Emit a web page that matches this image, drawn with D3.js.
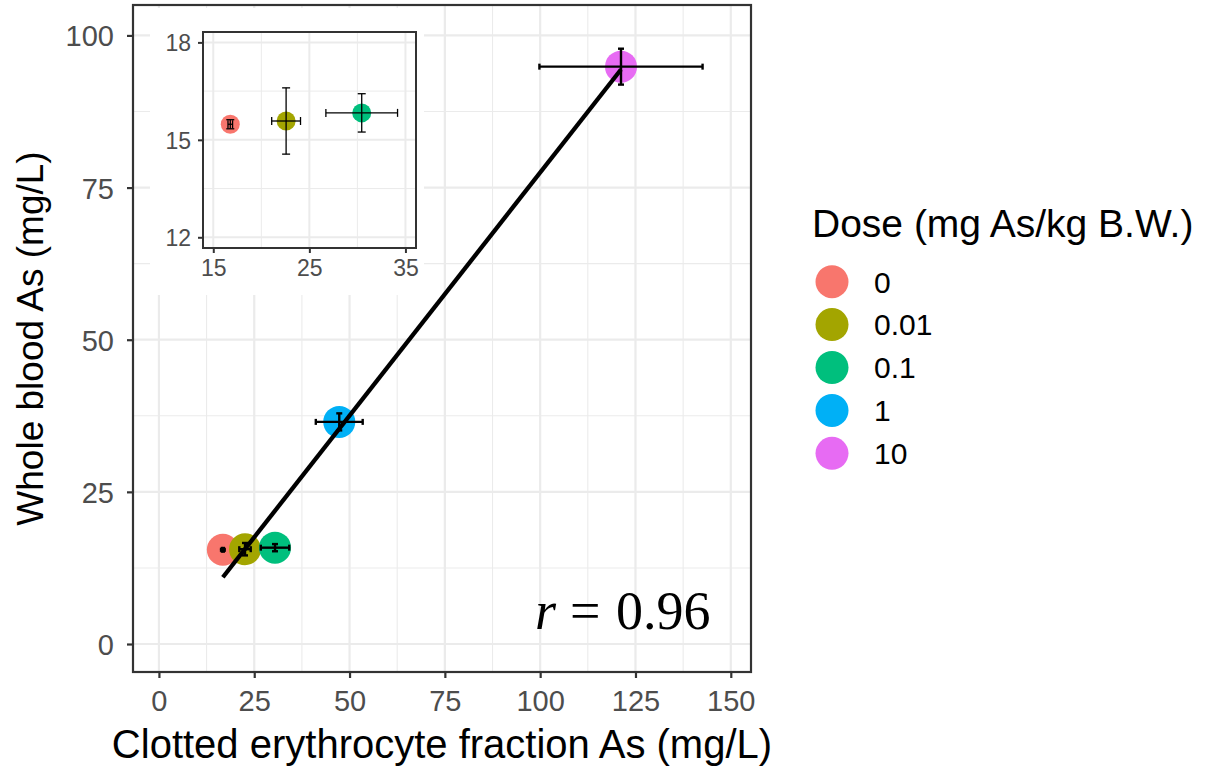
<!DOCTYPE html>
<html>
<head>
<meta charset="utf-8">
<script src="https://cdn.jsdelivr.net/npm/d3@7"></script>
<style>
  body { margin: 0; background: #fff; }
  svg text { font-family: "Liberation Sans", Arial, Helvetica, sans-serif; }
</style>
</head>
<body>
<div id="chart"></div>
<script>
// data
const doses = ["0", "0.01", "0.1", "1", "10"];
const doseColors = ["#F8766D", "#A3A500", "#00BF7D", "#00B0F6", "#E76BF3"];
const clotMean = [16.77, 22.58, 30.45, 47.3, 121.2];
const clotErr = [0.24, 1.5, 3.73, 6.15, 21.4];
const bloodMean = [15.48, 15.58, 15.83, 36.5, 94.87];
const bloodErr = [0.14, 1.02, 0.59, 1.4, 2.95];
const xTicks = [0, 25, 50, 75, 100, 125, 150];
const yTicks = [0, 25, 50, 75, 100];
const insetDoses = [0, 1, 2];
const insetXTicks = [15, 25, 35];
const insetYTicks = [12, 15, 18];
const rLabel = "0.96";

const rows = doses.map((d, i) => ({
  dose: d, color: doseColors[i],
  x: clotMean[i], xe: clotErr[i], y: bloodMean[i], ye: bloodErr[i]
}));

const W = 1205, H = 772;
const svg = d3.select("#chart").append("svg")
  .attr("width", W).attr("height", H);

// main panel
const panel = {left: 133, right: 751, top: 5, bottom: 672};
const x = d3.scaleLinear().domain([-6.8, 155.3]).range([panel.left, panel.right]);
const y = d3.scaleLinear().domain([-4.6, 105]).range([panel.bottom, panel.top]);

const grid = svg.append("g");
const minorX = d3.range(12.5, 150, 25), minorY = d3.range(12.5, 100, 25);
grid.selectAll(".mx").data(minorX).join("line")
  .attr("x1", d => x(d)).attr("x2", d => x(d))
  .attr("y1", panel.top).attr("y2", panel.bottom)
  .attr("stroke", "#ebebeb").attr("stroke-width", 1.1);
grid.selectAll(".my").data(minorY).join("line")
  .attr("y1", d => y(d)).attr("y2", d => y(d))
  .attr("x1", panel.left).attr("x2", panel.right)
  .attr("stroke", "#ebebeb").attr("stroke-width", 1.1);
grid.selectAll(".Mx").data(xTicks).join("line")
  .attr("x1", d => x(d)).attr("x2", d => x(d))
  .attr("y1", panel.top).attr("y2", panel.bottom)
  .attr("stroke", "#ebebeb").attr("stroke-width", 2.2);
grid.selectAll(".My").data(yTicks).join("line")
  .attr("y1", d => y(d)).attr("y2", d => y(d))
  .attr("x1", panel.left).attr("x2", panel.right)
  .attr("stroke", "#ebebeb").attr("stroke-width", 2.2);

// points
svg.append("g").selectAll("circle").data(rows).join("circle")
  .attr("cx", d => x(d.x)).attr("cy", d => y(d.y))
  .attr("r", 16).attr("fill", d => d.color);

// error bars
function errorBars(g, data, sx, sy, cap, sw) {
  data.forEach(d => {
    const e = g.append("g").attr("stroke", "#000").attr("stroke-width", sw);
    e.append("line").attr("x1", sx(d.x - d.xe)).attr("x2", sx(d.x + d.xe))
      .attr("y1", sy(d.y)).attr("y2", sy(d.y));
    e.append("line").attr("x1", sx(d.x - d.xe)).attr("x2", sx(d.x - d.xe))
      .attr("y1", sy(d.y) - cap).attr("y2", sy(d.y) + cap);
    e.append("line").attr("x1", sx(d.x + d.xe)).attr("x2", sx(d.x + d.xe))
      .attr("y1", sy(d.y) - cap).attr("y2", sy(d.y) + cap);
    e.append("line").attr("y1", sy(d.y - d.ye)).attr("y2", sy(d.y + d.ye))
      .attr("x1", sx(d.x)).attr("x2", sx(d.x));
    e.append("line").attr("y1", sy(d.y - d.ye)).attr("y2", sy(d.y - d.ye))
      .attr("x1", sx(d.x) - cap).attr("x2", sx(d.x) + cap);
    e.append("line").attr("y1", sy(d.y + d.ye)).attr("y2", sy(d.y + d.ye))
      .attr("x1", sx(d.x) - cap).attr("x2", sx(d.x) + cap);
  });
}
errorBars(svg.append("g"), rows, x, y, 3, 2.4);

// linear fit through the dose means
const mx = d3.mean(clotMean), my = d3.mean(bloodMean);
const slope = d3.sum(clotMean, (v, i) => (v - mx) * (bloodMean[i] - my)) /
              d3.sum(clotMean, v => (v - mx) * (v - mx));
const icpt = my - slope * mx;
const [x0, x1] = d3.extent(clotMean);
svg.append("line")
  .attr("x1", x(x0)).attr("y1", y(icpt + slope * x0))
  .attr("x2", x(x1)).attr("y2", y(icpt + slope * x1))
  .attr("stroke", "#000").attr("stroke-width", 4.3);

// r label
const rt = svg.append("text").attr("y", 629)
  .style("font-family", "'Liberation Serif', 'Times New Roman', serif")
  .attr("font-size", 54).attr("fill", "#000");
rt.append("tspan").attr("x", 535).attr("font-style", "italic").text("r");
rt.append("tspan").attr("x", 570).text("=");
rt.append("tspan").attr("x", 616).text(rLabel);

// border
svg.append("rect").attr("x", panel.left).attr("y", panel.top)
  .attr("width", panel.right - panel.left).attr("height", panel.bottom - panel.top)
  .attr("fill", "none").attr("stroke", "#333").attr("stroke-width", 2.2);

// main axes
const xAxis = svg.append("g").attr("transform", `translate(0,${panel.bottom})`)
  .call(d3.axisBottom(x).tickValues(xTicks).tickSize(6).tickPadding(12));
const yAxis = svg.append("g").attr("transform", `translate(${panel.left},0)`)
  .call(d3.axisLeft(y).tickValues(yTicks).tickSize(6).tickPadding(13));
[xAxis, yAxis].forEach(a => {
  a.select(".domain").remove();
  a.selectAll(".tick line").attr("stroke", "#333").attr("stroke-width", 2.2);
  a.selectAll(".tick text").attr("fill", "#4d4d4d").attr("font-size", 29)
    .style("font-family", "'Liberation Sans', Arial, sans-serif");
});
yAxis.selectAll(".tick text").attr("dy", "0.36em");

// inset
const ibg = {left: 150, right: 424, top: 8, bottom: 295};
svg.append("rect").attr("x", ibg.left).attr("y", ibg.top)
  .attr("width", ibg.right - ibg.left).attr("height", ibg.bottom - ibg.top)
  .attr("fill", "#fff");
const ip = {left: 203, right: 416, top: 32, bottom: 248};
const ix = d3.scaleLinear().domain([13.93, 36.1]).range([ip.left, ip.right]);
const iy = d3.scaleLinear().domain([11.67, 18.32]).range([ip.bottom, ip.top]);
const ig = svg.append("g");
ig.selectAll(".imx").data([20, 30]).join("line")
  .attr("x1", d => ix(d)).attr("x2", d => ix(d)).attr("y1", ip.top).attr("y2", ip.bottom)
  .attr("stroke", "#ebebeb").attr("stroke-width", 1);
ig.selectAll(".imy").data([13.5, 16.5]).join("line")
  .attr("y1", d => iy(d)).attr("y2", d => iy(d)).attr("x1", ip.left).attr("x2", ip.right)
  .attr("stroke", "#ebebeb").attr("stroke-width", 1);
ig.selectAll(".iMx").data(insetXTicks).join("line")
  .attr("x1", d => ix(d)).attr("x2", d => ix(d)).attr("y1", ip.top).attr("y2", ip.bottom)
  .attr("stroke", "#ebebeb").attr("stroke-width", 2);
ig.selectAll(".iMy").data(insetYTicks).join("line")
  .attr("y1", d => iy(d)).attr("y2", d => iy(d)).attr("x1", ip.left).attr("x2", ip.right)
  .attr("stroke", "#ebebeb").attr("stroke-width", 2);
const irows = insetDoses.map(i => rows[i]);
ig.selectAll("circle").data(irows).join("circle")
  .attr("cx", d => ix(d.x)).attr("cy", d => iy(d.y))
  .attr("r", 9.5).attr("fill", d => d.color);
errorBars(ig.append("g"), irows, ix, iy, 4, 1.3);
ig.append("rect").attr("x", ip.left).attr("y", ip.top)
  .attr("width", ip.right - ip.left).attr("height", ip.bottom - ip.top)
  .attr("fill", "none").attr("stroke", "#333").attr("stroke-width", 2);
const ixAxis = ig.append("g").attr("transform", `translate(0,${ip.bottom})`)
  .call(d3.axisBottom(ix).tickValues(insetXTicks).tickFormat(d3.format("d"))
    .tickSize(5).tickPadding(7));
const iyAxis = ig.append("g").attr("transform", `translate(${ip.left},0)`)
  .call(d3.axisLeft(iy).tickValues(insetYTicks).tickFormat(d3.format("d"))
    .tickSize(5).tickPadding(7));
[ixAxis, iyAxis].forEach(a => {
  a.select(".domain").remove();
  a.selectAll(".tick line").attr("stroke", "#333").attr("stroke-width", 2);
  a.selectAll(".tick text").attr("fill", "#4d4d4d").attr("font-size", 23)
    .style("font-family", "'Liberation Sans', Arial, sans-serif");
});
iyAxis.selectAll(".tick text").attr("dy", "0.36em");

// axis titles
svg.append("text").attr("x", (panel.left + panel.right) / 2).attr("y", 758)
  .attr("text-anchor", "middle").attr("font-size", 40).attr("fill", "#000")
  .text("Clotted erythrocyte fraction As (mg/L)");
svg.append("text")
  .attr("transform", `translate(43,${(panel.top + panel.bottom) / 2}) rotate(-90)`)
  .attr("text-anchor", "middle").attr("font-size", 37).attr("fill", "#000")
  .text("Whole blood As (mg/L)");

// legend
const leg = svg.append("g").attr("transform", "translate(812,0)");
leg.append("text").attr("x", 0).attr("y", 237).attr("font-size", 39)
  .attr("fill", "#000").text("Dose (mg As/kg B.W.)");
const items = leg.selectAll(".item").data(rows).join("g")
  .attr("transform", (d, i) => `translate(0,${281.7 + i * 42.9})`);
items.append("circle").attr("cx", 20).attr("cy", 0).attr("r", 16.5)
  .attr("fill", d => d.color);
items.append("text").attr("x", 62).attr("y", 0).attr("dy", "0.36em")
  .attr("font-size", 30).attr("fill", "#000").text(d => d.dose);
</script>
</body>
</html>
